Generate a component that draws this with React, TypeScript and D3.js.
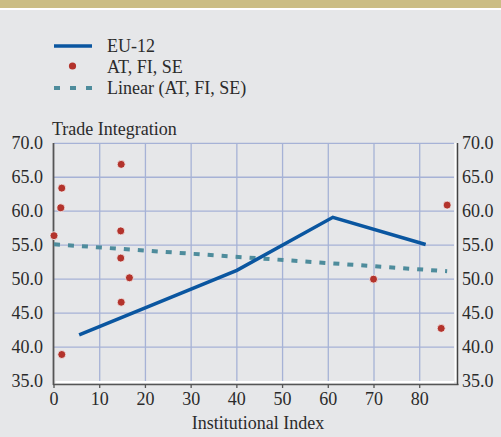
import React from "react";
import * as d3 from "d3";

const euX = [5.5, 40, 61, 81.3];
const euY = [41.8, 51.3, 59.1, 55.1];
const scX = [0, 1.7, 1.5, 14.7, 14.6, 14.6, 16.5, 14.7, 1.7, 69.9, 84.7, 86];
const scY = [56.4, 63.4, 60.5, 66.9, 57.1, 53.1, 50.2, 46.6, 38.9, 50.0, 42.75, 60.9];
const xTicks = [0, 10, 20, 30, 40, 50, 60, 70, 80];
const yTicks = [35, 40, 45, 50, 55, 60, 65, 70];
const legendLabels = ["EU-12", "AT, FI, SE", "Linear (AT, FI, SE)"];

const W = 501, H = 437;
const font = "'Liberation Serif', 'Times New Roman', serif";
const textColor = "#2b2b2b";

export default function App() {
  const x = d3.scaleLinear().domain([0, 87.5]).range([54, 454]);
  const y = d3.scaleLinear().domain([35, 70]).range([381, 143.3]);

  const eu = euX.map((v, i) => [v, euY[i]] as [number, number]);
  const line = d3.line<[number, number]>().x(d => x(d[0])).y(d => y(d[1]));

  // least-squares trend of the scatter
  const mx = d3.mean(scX)!, my = d3.mean(scY)!;
  let sxy = 0, sxx = 0;
  scX.forEach((v, i) => { sxy += (v - mx) * (scY[i] - my); sxx += (v - mx) * (v - mx); });
  const slope = sxy / sxx, icpt = my - slope * mx;
  const [x0, x1] = d3.extent(scX) as [number, number];

  return (
    <svg width={W} height={H} style={{ position: "absolute", left: 0, top: 0, display: "block" }}>
      <rect x={0} y={0} width={W} height={H} fill="#e6e7e9" />
      <rect x={0} y={0} width={W} height={8} fill="#cbbd84" />
      <rect x={0} y={8} width={W} height={2} fill="#ffffff" />

      {/* legend */}
      <line x1={54} x2={92} y1={46} y2={46} stroke="#0a56a0" strokeWidth={3.5} />
      <circle cx={72.5} cy={66} r={3.6} fill="#b3332c" />
      <line x1={54} x2={92} y1={88} y2={88} stroke="#4e8c9c" strokeWidth={4} strokeDasharray="6,10" />
      {legendLabels.map((t, i) => (
        <text key={t} x={107} y={52 + i * 21} fontFamily={font} fontSize={18} fill={textColor}>{t}</text>
      ))}

      {/* grid */}
      {yTicks.filter(t => t > 35).map(t => (
        <line key={"gy" + t} x1={54} x2={454} y1={y(t)} y2={y(t)} stroke="#a6b2d6" strokeWidth={1.3} />
      ))}
      {xTicks.filter(t => t > 0).map(t => (
        <line key={"gx" + t} x1={x(t)} x2={x(t)} y1={y(70)} y2={y(35)} stroke="#a6b2d6" strokeWidth={1.3} />
      ))}

      {/* axes */}
      <line x1={x(0) + 1.5} x2={x(87.5)} y1={382} y2={382} stroke="#ffffff" strokeWidth={2} />
      <line x1={455.5} x2={455.5} y1={143} y2={382} stroke="#ffffff" strokeWidth={2} />
      <line x1={53.5} x2={53.5} y1={143} y2={385} stroke="#555555" strokeWidth={1.8} />
      <line x1={53} x2={458.5} y1={384.5} y2={384.5} stroke="#555555" strokeWidth={1.5} />
      <line x1={457.5} x2={457.5} y1={143} y2={385} stroke="#444444" strokeWidth={1.5} />
      {xTicks.map(t => (
        <line key={"tk" + t} x1={x(t)} x2={x(t)} y1={384} y2={388} stroke="#555555" strokeWidth={1.3} />
      ))}

      {/* tick labels */}
      {yTicks.map(t => (
        <g key={"yl" + t}>
          <text x={43} y={y(t) + 6} textAnchor="end" fontFamily={font} fontSize={18} fill={textColor}>{t.toFixed(1)}</text>
          <text x={462} y={y(t) + 6} textAnchor="start" fontFamily={font} fontSize={18} fill={textColor}>{t.toFixed(1)}</text>
        </g>
      ))}
      {xTicks.map(t => (
        <text key={"xl" + t} x={x(t)} y={405} textAnchor="middle" fontFamily={font} fontSize={18} fill={textColor}>{t}</text>
      ))}
      <text x={52} y={135} fontFamily={font} fontSize={18} fill={textColor}>Trade Integration</text>
      <text x={258} y={429} textAnchor="middle" fontFamily={font} fontSize={18} fill={textColor}>Institutional Index</text>

      {/* data */}
      <line x1={x(x0)} x2={x(x1)} y1={y(icpt + slope * x0)} y2={y(icpt + slope * x1)}
        stroke="#4e8c9c" strokeWidth={4} strokeDasharray="6,8" />
      <path d={line(eu)!} fill="none" stroke="#0a56a0" strokeWidth={3.5} strokeLinejoin="miter" />
      {scX.map((v, i) => (
        <circle key={"p" + i} cx={x(v)} cy={y(scY[i])} r={4} fill="#b3332c" stroke="#f4f4f4" strokeWidth={0.8} />
      ))}
    </svg>
  );
}
